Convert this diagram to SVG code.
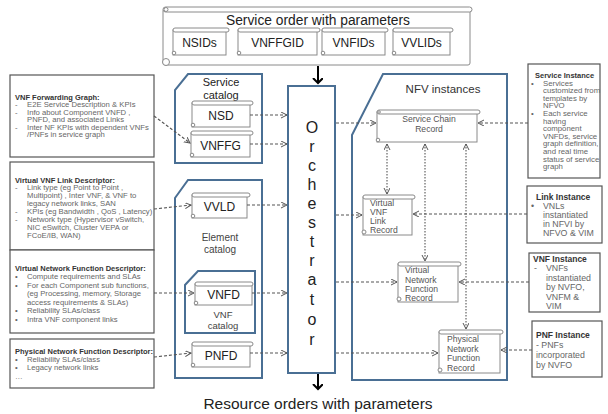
<svg xmlns="http://www.w3.org/2000/svg" width="608" height="414" viewBox="0 0 608 414">
<defs>
<marker id="chev" markerUnits="userSpaceOnUse" markerWidth="8" markerHeight="8" refX="6" refY="3" orient="auto-start-reverse"><path d="M0,0 L6,3 L0,6" fill="none" stroke="#555" stroke-width="1"/></marker>
<marker id="blk" markerUnits="userSpaceOnUse" markerWidth="12" markerHeight="12" refX="5" refY="5" orient="auto"><path d="M0,0 L5,5 L0,10" fill="none" stroke="#000" stroke-width="2"/></marker>
<style>
text{font-family:"Liberation Sans",Arial,sans-serif}
.sc rect,.sc circle{fill:#fff;stroke:#8a8a8a;stroke-width:1}
.cat{fill:#fff;stroke:#4a6f94;stroke-width:2}
.lbl{font-size:12px;fill:#222;text-anchor:middle}
.rec{font-size:8.6px;fill:#555}
.box{fill:#fff;stroke:#555;stroke-width:1.2}
.t{font-size:7.7px;fill:#666}
.tb{font-size:7.5px;font-weight:bold;fill:#333}
.r{font-size:7.8px;fill:#666}
.rb{font-size:7.5px;font-weight:bold;fill:#333}
.dash{stroke:#555;stroke-width:1.1;stroke-dasharray:3,2;fill:none;marker-end:url(#chev)}
.dot{stroke:#555;stroke-width:1.1;stroke-dasharray:1.5,1.5;fill:none;marker-end:url(#chev);marker-start:url(#chev)}
.solid{stroke:#000;stroke-width:2;fill:none;marker-end:url(#blk)}
</style>
</defs>
<rect width="608" height="414" fill="#fff"/>

<g id="service-order">
<g class="sc"><rect x="163" y="9" width="307" height="56" rx="2"/><rect x="163" y="7" width="309" height="5" rx="2.5"/><circle cx="166" cy="62" r="3.5"/><circle cx="166" cy="9.5" r="2"/></g>
<text x="318" y="25" font-size="13.8" fill="#222" text-anchor="middle">Service order with parameters</text>
</g>
<g id="nsids"><g class="sc"><rect x="173" y="30" width="53" height="25"/><rect x="173" y="28" width="56" height="4" rx="2"/><circle cx="174" cy="53" r="1.8"/></g><text class="lbl" x="199.5" y="47">NSIDs</text></g>
<g id="vnffgid"><g class="sc"><rect x="238" y="30" width="79" height="25"/><rect x="238" y="28" width="82" height="4" rx="2"/><circle cx="239" cy="53" r="1.8"/></g><text class="lbl" x="277.5" y="47">VNFFGID</text></g>
<g id="vnfids"><g class="sc"><rect x="322" y="30" width="63" height="25"/><rect x="322" y="28" width="66" height="4" rx="2"/><circle cx="323" cy="53" r="1.8"/></g><text class="lbl" x="353.5" y="47">VNFIDs</text></g>
<g id="vvlids"><g class="sc"><rect x="393" y="30" width="57" height="25"/><rect x="393" y="28" width="60" height="4" rx="2"/><circle cx="394" cy="53" r="1.8"/></g><text class="lbl" x="421.5" y="47">VVLIDs</text></g>

<g id="service-catalog">
<polygon class="cat" points="188,74 262,74 262,163 175,163 175,90"/>
<text x="221" y="86" font-size="11" fill="#222" text-anchor="middle">Service</text>
<text x="221" y="98.5" font-size="11" fill="#222" text-anchor="middle">catalog</text>
</g>
<g id="nsd"><g class="sc"><rect x="192" y="103" width="58" height="24"/><rect x="192" y="101" width="61" height="4" rx="2"/><circle cx="193" cy="125" r="1.8"/></g><text class="lbl" x="221" y="119.5">NSD</text></g>
<g id="vnffg"><g class="sc"><rect x="191" y="133" width="59" height="24"/><rect x="191" y="131" width="62" height="4" rx="2"/><circle cx="192" cy="155" r="1.8"/></g><text class="lbl" x="220.5" y="149.5">VNFFG</text></g>

<g id="element-catalog">
<polygon class="cat" points="188,180 262,180 262,378 175,378 175,198"/>
<text x="220" y="241" font-size="10" fill="#444" text-anchor="middle">Element</text>
<text x="220" y="253" font-size="10" fill="#444" text-anchor="middle">catalog</text>
</g>
<g id="vvld"><g class="sc"><rect x="192" y="195" width="55" height="23"/><rect x="192" y="193" width="58" height="4" rx="2"/><circle cx="193" cy="216" r="1.8"/></g><text class="lbl" x="219.5" y="211">VVLD</text></g>
<g id="vnf-catalog">
<polygon class="cat" points="198,271 255,271 255,333 185,333 185,285"/>
<text x="223" y="318" font-size="9.5" fill="#444" text-anchor="middle">VNF</text>
<text x="223" y="329" font-size="9.5" fill="#444" text-anchor="middle">catalog</text>
</g>
<g id="vnfd"><g class="sc"><rect x="195" y="284" width="57" height="21"/><rect x="195" y="282" width="58" height="4" rx="2"/><circle cx="196" cy="303" r="1.8"/></g><text class="lbl" x="223.5" y="299">VNFD</text></g>
<g id="pnfd"><g class="sc"><rect x="192" y="344" width="58" height="23"/><rect x="192" y="342" width="61" height="4" rx="2"/><circle cx="193" cy="365" r="1.8"/></g><text class="lbl" x="221" y="360">PNFD</text></g>

<g id="orchestrator">
<rect x="288" y="86" width="47" height="287" fill="#fff" stroke="#4a6f94" stroke-width="2"/>
<g font-size="16" fill="#222" text-anchor="middle">
<text x="312" y="133">O</text><text x="312" y="152">r</text><text x="312" y="171">c</text><text x="312" y="190">h</text><text x="312" y="209">e</text><text x="312" y="228">s</text><text x="312" y="247">t</text><text x="312" y="266">r</text><text x="312" y="285">a</text><text x="312" y="305">t</text><text x="312" y="325">o</text><text x="312" y="345">r</text>
</g>
</g>

<g id="nfv-instances">
<polygon class="cat" points="383,74 507,74 507,380 352,380 352,135"/>
<text x="443" y="93" font-size="11.5" fill="#333" text-anchor="middle">NFV instances</text>
</g>
<g id="scr"><g class="sc"><rect x="377" y="112" width="100" height="30"/><rect x="377" y="110" width="103" height="4" rx="2"/><circle cx="378" cy="140" r="1.8"/><circle cx="379" cy="112" r="1.3"/></g>
<text class="rec" x="429" y="122" text-anchor="middle">Service Chain</text><text class="rec" x="429" y="132" text-anchor="middle">Record</text></g>
<g id="vvlr"><g class="sc"><rect x="363" y="197" width="49" height="38"/><rect x="363" y="195" width="52" height="4" rx="2"/><circle cx="364" cy="232" r="2"/></g>
<text class="rec" x="370" y="206">Virtual</text><text class="rec" x="370" y="215">VNF</text><text class="rec" x="370" y="224">Link</text><text class="rec" x="370" y="233">Record</text></g>
<g id="vnfr"><g class="sc"><rect x="398" y="264" width="60" height="38"/><rect x="398" y="262" width="63" height="4" rx="2"/><circle cx="399" cy="299" r="2"/></g>
<text class="rec" x="405" y="273">Virtual</text><text class="rec" x="405" y="282.5">Network</text><text class="rec" x="405" y="292">Function</text><text class="rec" x="405" y="301">Record</text></g>
<g id="pnfr"><g class="sc"><rect x="439" y="332" width="61" height="41"/><rect x="439" y="330" width="64" height="4" rx="2"/><circle cx="440" cy="370" r="2"/></g>
<text class="rec" x="447" y="342">Physical</text><text class="rec" x="447" y="351.5">Network</text><text class="rec" x="447" y="361">Function</text><text class="rec" x="447" y="370.5">Record</text></g>

<g id="vnffg-desc">
<rect class="box" x="10" y="75" width="144" height="82"/>
<text class="tb" x="15" y="99.5">VNF Forwarding Graph:</text>
<text class="t" x="15" y="107">-</text><text class="t" x="27" y="107">E2E Service Description &amp; KPIs</text>
<text class="t" x="15" y="114.5">-</text><text class="t" x="27" y="114.5">Info about Component VNFD ,</text>
<text class="t" x="27" y="122">PNFD, and associated  Links</text>
<text class="t" x="15" y="129.5">-</text><text class="t" x="27" y="129.5">Inter NF KPIs with dependent VNFs</text>
<text class="t" x="27" y="137">/PNFs in service graph</text>
</g>
<g id="vvld-desc">
<rect class="box" x="10" y="162" width="144" height="88"/>
<text class="tb" x="15" y="182.5">Virtual VNF Link Descriptor:</text>
<text class="t" x="15" y="190">-</text><text class="t" x="27" y="190">Link type (eg Point to Point ,</text>
<text class="t" x="27" y="198">Multipoint) , Inter VNF, &amp; VNF to</text>
<text class="t" x="27" y="206">legacy network links, SAN</text>
<text class="t" x="15" y="214">-</text><text class="t" x="27" y="214">KPIs (eg Bandwidth , QoS , Latency)</text>
<text class="t" x="15" y="222">-</text><text class="t" x="27" y="222">Network type (Hypervisor vSwitch,</text>
<text class="t" x="27" y="230">NIC eSwitch, Cluster VEPA or</text>
<text class="t" x="27" y="238">FCoE/IB, WAN)</text>
</g>
<g id="vnfd-desc">
<rect class="box" x="10" y="250" width="144" height="83"/>
<text class="tb" x="15" y="270.5">Virtual Network Function Descriptor:</text>
<text class="t" x="15" y="279">•</text><text class="t" x="27" y="279">Compute requirements and SLAs</text>
<text class="t" x="15" y="287.5">•</text><text class="t" x="27" y="287.5">For each Component sub functions,</text>
<text class="t" x="27" y="296">(eg Processing,  memory, Storage</text>
<text class="t" x="27" y="304.5">access requirements &amp; SLAs)</text>
<text class="t" x="15" y="313">•</text><text class="t" x="27" y="313">Reliability SLAs/class</text>
<text class="t" x="15" y="321.5">•</text><text class="t" x="27" y="321.5">Intra VNF component links</text>
</g>
<g id="pnfd-desc">
<rect class="box" x="10" y="339" width="144" height="49"/>
<text class="tb" x="15" y="353.5">Physical Network Function Descriptor:</text>
<text class="t" x="15" y="362">•</text><text class="t" x="27" y="362">Reliability SLAs/class</text>
<text class="t" x="15" y="370">•</text><text class="t" x="27" y="370">Legacy network  links</text>
<text class="t" x="15" y="379">…</text>
</g>

<g id="service-instance">
<rect class="box" x="528" y="64" width="72" height="114"/>
<text class="rb" x="535" y="77.5">Service Instance</text>
<text class="r" x="531" y="85.5">•</text><text class="r" x="543" y="85.5">Services</text>
<text class="r" x="543" y="93.1">customized from</text>
<text class="r" x="543" y="100.7">templates by</text>
<text class="r" x="543" y="108.3">NFVO</text>
<text class="r" x="531" y="115.9">•</text><text class="r" x="543" y="115.9">Each service</text>
<text class="r" x="543" y="123.5">having</text>
<text class="r" x="543" y="131.1">component</text>
<text class="r" x="543" y="138.7">VNFDs, service</text>
<text class="r" x="543" y="146.3">graph definition,</text>
<text class="r" x="543" y="153.9">and real time</text>
<text class="r" x="543" y="161.5">status of service</text>
<text class="r" x="543" y="169.1">graph</text>
</g>
<g id="link-instance" font-size="8.8">
<rect class="box" x="527" y="186" width="75" height="57"/>
<text x="536" y="200" font-weight="bold" fill="#333" font-size="8.5">Link Instance</text>
<text x="531" y="209" fill="#666">•</text><text x="543" y="209" fill="#666">VNLs</text>
<text x="543" y="218" fill="#666">instantiated</text>
<text x="543" y="227" fill="#666">in NFVI by</text>
<text x="543" y="236" fill="#666">NFVO &amp; VIM</text>
</g>
<g id="vnf-instance" font-size="8.8">
<rect class="box" x="529" y="253" width="71" height="59"/>
<text x="533" y="262" font-weight="bold" fill="#333" font-size="8.5">VNF Instance</text>
<text x="534" y="271" fill="#666">-</text><text x="546" y="271" fill="#666">VNFs</text>
<text x="546" y="280.5" fill="#666">instantiated</text>
<text x="546" y="290" fill="#666">by NVFO,</text>
<text x="546" y="299.5" fill="#666">VNFM &amp;</text>
<text x="546" y="309" fill="#666">VIM</text>
</g>
<g id="pnf-instance" font-size="8.8">
<rect class="box" x="532" y="321" width="70" height="56"/>
<text x="536" y="338" font-weight="bold" fill="#333" font-size="8.5">PNF Instance</text>
<text x="536" y="348" fill="#666">- PNFs</text>
<text x="536" y="358" fill="#666">incorporated</text>
<text x="536" y="368" fill="#666">by NVFO</text>
</g>

<text id="resource-orders" x="318" y="409" font-size="15.5" fill="#222" text-anchor="middle">Resource orders with parameters</text>

<g id="connectors">
<path class="solid" d="M318,66 V83"/>
<path class="solid" d="M318,374 V389"/>
<path class="dash" d="M250,115 H287"/>
<path class="dash" d="M250,144 H287"/>
<path class="dash" d="M247,205 H287"/>
<path class="dash" d="M252,293 H287"/>
<path class="dash" d="M250,353 H287"/>
<path class="dash" d="M336,123 H376"/>
<path class="dash" d="M336,215 H362"/>
<path class="dash" d="M336,282 H397"/>
<path class="dash" d="M336,353 H438"/>
<path class="dot" d="M387,144 V194"/>
<path class="dot" d="M425,144 V261"/>
<path class="dot" d="M466,144 V329"/>
<path class="dash" d="M528,123 H478"/>
<path class="dash" d="M527,214 H413"/>
<path class="dash" d="M529,282 H459"/>
<path class="dash" d="M532,350 H501"/>
<path class="dash" d="M154,116 L190,143"/>
<path class="dash" d="M154,209 L191,205"/>
<path class="dash" d="M154,293 H194"/>
<path class="dash" d="M154,357 L191,353"/>
</g>
</svg>
